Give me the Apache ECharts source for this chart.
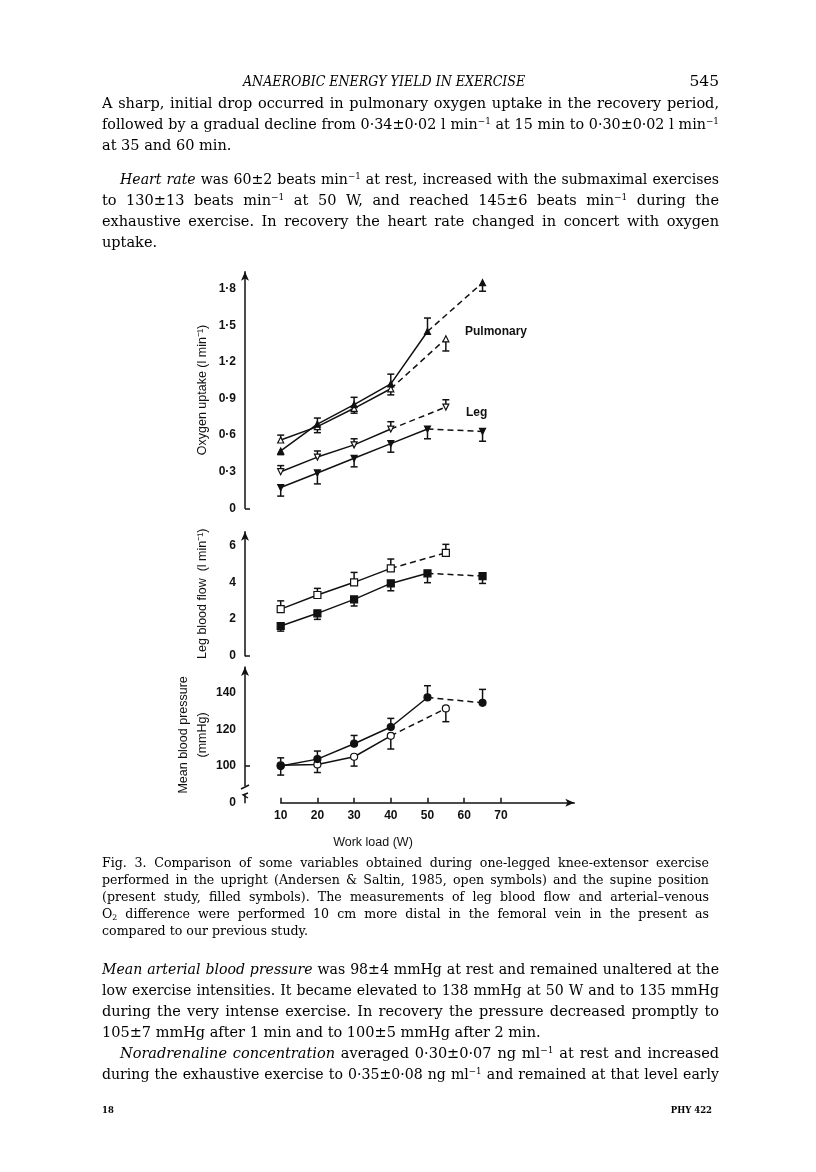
<!DOCTYPE html>
<html><head><meta charset="utf-8">
<script src="https://cdn.jsdelivr.net/npm/echarts@6/dist/echarts.min.js"></script>
<style>
html,body{margin:0;padding:0;background:#fff;}
#page{position:relative;width:816px;height:1172px;overflow:hidden;background:#fff;}
#chart{position:absolute;left:0;top:0;width:816px;height:1172px;z-index:1;}
.ln{position:absolute;left:102px;width:617px;font-family:"DejaVu Serif",serif;font-size:14.5px;line-height:21px;color:#000;text-align:justify;text-align-last:justify;z-index:2;}
.ind{left:120px;width:599px;}
.last{text-align-last:left;}
.cap{font-size:12.6px;width:607px;line-height:17px;}
sup{font-size:0.62em;line-height:0;vertical-align:0.6em;}
sub{font-size:0.62em;line-height:0;vertical-align:-0.2em;}
.hdr{position:absolute;font-family:"DejaVu Serif",serif;font-style:italic;font-size:15.5px;color:#000;z-index:2;white-space:nowrap;}
.ft{position:absolute;font-family:"DejaVu Serif",serif;font-size:8.5px;font-weight:bold;color:#000;z-index:2;white-space:nowrap;}
</style></head>
<body>
<div id="page">
<div id="chart"></div>
<div class="hdr" id="hdr" style="left:243px;top:72px;">ANAEROBIC ENERGY YIELD IN EXERCISE</div>
<div class="hdr" style="left:680px;top:72px;width:39px;text-align:right;font-style:normal;">545</div>

<div class="ln" style="top:93px;">A sharp, initial drop occurred in pulmonary oxygen uptake in the recovery period,</div>
<div class="ln" style="top:114px;">followed by a gradual decline from 0·34±0·02 l min<sup>−1</sup> at 15 min to 0·30±0·02 l min<sup>−1</sup></div>
<div class="ln last" style="top:135px;">at 35 and 60 min.</div>
<div class="ln ind" style="top:169px;"><i>Heart rate</i> was 60±2 beats min<sup>−1</sup> at rest, increased with the submaximal exercises</div>
<div class="ln" style="top:190px;">to 130±13 beats min<sup>−1</sup> at 50 W, and reached 145±6 beats min<sup>−1</sup> during the</div>
<div class="ln" style="top:211px;">exhaustive exercise. In recovery the heart rate changed in concert with oxygen</div>
<div class="ln last" style="top:232px;">uptake.</div>

<div class="ln cap" style="top:854px;">Fig. 3. Comparison of some variables obtained during one-legged knee-extensor exercise</div>
<div class="ln cap" style="top:871px;">performed in the upright (Andersen &amp; Saltin, 1985, open symbols) and the supine position</div>
<div class="ln cap" style="top:888px;">(present study, filled symbols). The measurements of leg blood flow and arterial–venous</div>
<div class="ln cap" style="top:905px;">O<sub>2</sub> difference were performed 10 cm more distal in the femoral vein in the present as</div>
<div class="ln cap last" style="top:922px;">compared to our previous study.</div>

<div class="ln" style="top:959px;"><i>Mean arterial blood pressure</i> was 98±4 mmHg at rest and remained unaltered at the</div>
<div class="ln" style="top:980px;">low exercise intensities. It became elevated to 138 mmHg at 50 W and to 135 mmHg</div>
<div class="ln" style="top:1001px;">during the very intense exercise. In recovery the pressure decreased promptly to</div>
<div class="ln last" style="top:1022px;">105±7 mmHg after 1 min and to 100±5 mmHg after 2 min.</div>
<div class="ln ind" style="top:1043px;"><i>Noradrenaline concentration</i> averaged 0·30±0·07 ng ml<sup>−1</sup> at rest and increased</div>
<div class="ln" style="top:1064px;">during the exhaustive exercise to 0·35±0·08 ng ml<sup>−1</sup> and remained at that level early</div>
<div class="ft" style="left:102px;top:1105px;">18</div>
<div class="ft" style="left:652px;top:1105px;width:60px;text-align:right;">PHY 422</div>
</div>
<script>
// fit text lines (shrink until each sits on one line)
document.querySelectorAll('.ln').forEach(el => {
  const lh = parseFloat(getComputedStyle(el).lineHeight);
  let fs = parseFloat(getComputedStyle(el).fontSize);
  while (el.offsetHeight > lh * 1.5 && fs > 8) { fs -= 0.2; el.style.fontSize = fs + 'px'; }
});
(function () {
  const h = document.getElementById('hdr');
  const w = h.scrollWidth, target = 282;
  h.style.transformOrigin = 'left center';
  h.style.transform = 'scaleX(' + (target / w) + ')';
})();

// ---- data ----
const workSupine = [10, 20, 30, 40, 50, 65];
const workUpright = [10, 20, 30, 40, 55];

// Oxygen uptake (l/min)
const pulmSupine   = [0.47, 0.69, 0.85, 1.02, 1.45, 1.85];
const pulmSupineSD = [-0.03, 0.05, 0.06, 0.08, 0.11, -0.07];
const pulmUpright   = [0.56, 0.67, 0.82, 0.98, 1.39];
const pulmUprightSD = [0.04, -0.05, -0.04, -0.05, -0.10];
const legO2Supine   = [0.17, 0.29, 0.41, 0.53, 0.65, 0.63];
const legO2SupineSD = [-0.07, -0.09, -0.07, -0.07, -0.08, -0.08];
const legO2Upright   = [0.30, 0.42, 0.52, 0.65, 0.83];
const legO2UprightSD = [0.05, 0.05, 0.05, 0.06, 0.06];

// Leg blood flow (l/min)
const flowSupine   = [1.62, 2.31, 3.07, 3.94, 4.49, 4.34];
const flowSupineSD = [-0.28, -0.33, -0.36, -0.40, -0.51, -0.40];
const flowUpright   = [2.54, 3.31, 4.00, 4.76, 5.61];
const flowUprightSD = [0.45, 0.36, 0.54, 0.51, 0.46];

// Mean blood pressure (mmHg)
const bpSupine   = [100.0, 103.8, 112.2, 121.3, 137.4, 134.5];
const bpSupineSD = [4.5, 4.4, 4.5, 4.7, 6.4, 7.3];
const bpUpright   = [100.4, 100.9, 105.1, 116.5, 131.4];
const bpUprightSD = [-5.3, -4.4, -5.1, -7.2, -7.2];

// tick labels
const xTicks = [10, 20, 30, 40, 50, 60, 70];
const oxyTicks = [0, 0.3, 0.6, 0.9, 1.2, 1.5, 1.8];
const oxyTickLabels = ['0', '0·3', '0·6', '0·9', '1·2', '1·5', '1·8'];
const flowTicks = [0, 2, 4, 6];
const flowTickLabels = ['0', '2', '4', '6'];
const bpTicks = [80, 100, 120, 140];          // 80 sits at the broken-axis "0"
const bpTickLabels = ['0', '100', '120', '140'];

// ---- layout ----
const INK = '#111';
const X0 = 280.7, XW = 293.6, YAXIS_X = 245;
const grids = [
  {left: X0, top: 271.7, width: XW, height: 236.6},
  {left: X0, top: 531.7, width: XW, height: 124},
  {left: X0, top: 667, width: XW, height: 135.8}
];
const yRanges = [[0, 1.94], [0, 6.76], [80, 154]];

function labelFor(ticks, labels) {
  return v => { for (let i = 0; i < ticks.length; i++) if (Math.abs(ticks[i] - v) < 1e-6) return labels[i]; return ''; };
}

function yAxisDef(gi, ticks, labels, name, nameGap, tickVals) {
  return {
    type: 'value', gridIndex: gi, position: 'left', offset: X0 - YAXIS_X,
    min: yRanges[gi][0], max: yRanges[gi][1],
    axisLine: {show: true, symbol: ['none', 'arrow'], symbolSize: [6, 9], lineStyle: {color: INK, width: 1.5}},
    axisTick: {show: true, inside: true, length: 5, customValues: tickVals, lineStyle: {color: INK, width: 1.5}},
    axisLabel: {customValues: ticks, formatter: labelFor(ticks, labels), color: INK, fontWeight: 'bold',
      fontFamily: 'Liberation Sans, Arial, sans-serif', fontSize: 12, margin: 9},
    splitLine: {show: false},
    name: name, nameLocation: 'middle', nameGap: nameGap,
    nameTextStyle: {color: INK, fontFamily: 'Liberation Sans, Arial, sans-serif', fontSize: 12.5, lineHeight: 19}
  };
}

function xAxisDef(gi, visible) {
  const ax = {type: 'value', gridIndex: gi, min: 10, max: 90, splitLine: {show: false}};
  if (!visible) { ax.show = false; return ax; }
  return Object.assign(ax, {
    axisLine: {show: true, symbol: ['none', 'arrow'], symbolSize: [6, 9], lineStyle: {color: INK, width: 1.5}},
    axisTick: {show: true, inside: true, length: 5, customValues: xTicks, lineStyle: {color: INK, width: 1.5}},
    axisLabel: {customValues: xTicks, color: INK, fontWeight: 'bold', fontFamily: 'Liberation Sans, Arial, sans-serif', fontSize: 12, margin: 7},
    name: 'Work load (W)', nameLocation: 'middle', nameGap: 33,
    nameTextStyle: {color: INK, fontFamily: 'Liberation Sans, Arial, sans-serif', fontSize: 12.5, padding: [0, 109, 0, 0]}
  });
}

function groupSeries(gi, xs, ys, sds, symbol, size, filled, rotate) {
  const pts = xs.map((x, i) => [x, ys[i]]);
  const k = pts.length - 2;
  const line = {color: INK, width: 1.5};
  return [
    {type: 'line', xAxisIndex: gi, yAxisIndex: gi, data: pts.slice(0, k + 1), symbol: 'none', silent: true,
      lineStyle: Object.assign({type: 'solid'}, line), z: 2, animation: false},
    {type: 'line', xAxisIndex: gi, yAxisIndex: gi, data: pts.slice(k), symbol: 'none', silent: true,
      lineStyle: Object.assign({type: [6, 4]}, line), z: 2, animation: false},
    {type: 'custom', xAxisIndex: gi, yAxisIndex: gi, z: 3, silent: true, clip: false, animation: false,
      data: xs.map((x, i) => [x, ys[i], ys[i] + sds[i]]),
      renderItem: function (params, api) {
        const p0 = api.coord([api.value(0), api.value(1)]);
        const p1 = api.coord([api.value(0), api.value(2)]);
        const c = 3.5;
        return {type: 'group', children: [
          {type: 'line', shape: {x1: p0[0], y1: p0[1], x2: p1[0], y2: p1[1]}, style: {stroke: INK, lineWidth: 1.5}},
          {type: 'line', shape: {x1: p1[0] - c, y1: p1[1], x2: p1[0] + c, y2: p1[1]}, style: {stroke: INK, lineWidth: 1.5}}
        ]};
      }},
    {type: 'scatter', xAxisIndex: gi, yAxisIndex: gi, data: pts, symbol: symbol, symbolSize: size,
      symbolRotate: rotate || 0, z: 4, silent: true, animation: false,
      itemStyle: {color: filled ? INK : '#fff', borderColor: INK, borderWidth: 1.2, opacity: 1}}
  ];
}

const series = [].concat(
  groupSeries(0, workUpright, pulmUpright, pulmUprightSD, 'triangle', 6, false),
  groupSeries(0, workSupine, pulmSupine, pulmSupineSD, 'triangle', 6, true),
  groupSeries(0, workUpright, legO2Upright, legO2UprightSD, 'triangle', 6, false, 180),
  groupSeries(0, workSupine, legO2Supine, legO2SupineSD, 'triangle', 6, true, 180),
  groupSeries(1, workUpright, flowUpright, flowUprightSD, 'rect', 7, false),
  groupSeries(1, workSupine, flowSupine, flowSupineSD, 'rect', 7, true),
  groupSeries(2, workUpright, bpUpright, bpUprightSD, 'circle', 7, false),
  groupSeries(2, workSupine, bpSupine, bpSupineSD, 'circle', 7, true)
);

const chart = echarts.init(document.getElementById('chart'), null, {renderer: 'canvas'});
chart.setOption({
  backgroundColor: 'transparent',
  animation: false,
  grid: grids.map(g => Object.assign({outerBoundsMode: 'none', containLabel: false}, g)),
  xAxis: [xAxisDef(0, false), xAxisDef(1, false), xAxisDef(2, true)],
  yAxis: [
    yAxisDef(0, oxyTicks, oxyTickLabels, 'Oxygen uptake (l min⁻¹)', 33, [0]),
    yAxisDef(1, flowTicks, flowTickLabels, 'Leg blood flow  (l min⁻¹)', 33, [0]),
    yAxisDef(2, bpTicks, bpTickLabels, 'Mean blood pressure\n(mmHg)', 32, [100])
  ],
  series: series,
  graphic: [
    {type: 'text', left: 465, top: 326, style: {text: 'Pulmonary', fill: INK, font: 'bold 12px "Liberation Sans", Arial, sans-serif'}},
    {type: 'text', left: 466, top: 407, style: {text: 'Leg', fill: INK, font: 'bold 12px "Liberation Sans", Arial, sans-serif'}},
    {type: 'rect', shape: {x: YAXIS_X - 3, y: 786, width: 6, height: 9}, style: {fill: '#fff'}, z: 100},
    {type: 'polyline', shape: {points: [[YAXIS_X - 4, 789], [YAXIS_X + 4, 785]]}, style: {stroke: INK, lineWidth: 1.4}, z: 101},
    {type: 'polyline', shape: {points: [[YAXIS_X + 3, 793], [YAXIS_X - 2, 795], [YAXIS_X + 3, 798]]}, style: {stroke: INK, lineWidth: 1.4, fill: 'none'}, z: 101}
  ]
});
</script>
</body></html>
